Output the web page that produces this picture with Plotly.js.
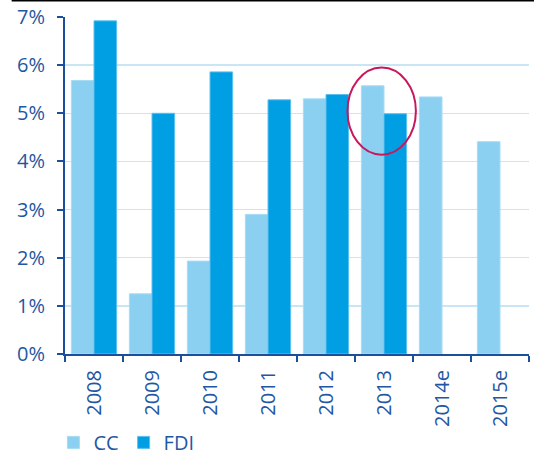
<!DOCTYPE html>
<html>
<head>
<meta charset="utf-8">
<script src="https://cdn.plot.ly/plotly-3.0.1.min.js"></script>
<style>
html,body{margin:0;padding:0;background:#fff;}
#chart{width:534px;height:457px;}
</style>
</head>
<body>
<div id="chart"></div>
<script>
var years = ["2008", "2009", "2010", "2011", "2012", "2013", "2014e", "2015e"];
var ccValues = [5.68, 1.25, 1.93, 2.9, 5.3, 5.57, 5.34, 4.41];
var fdiYears = ["2008", "2009", "2010", "2011", "2012", "2013"];
var fdiValues = [6.92, 5.0, 5.86, 5.28, 5.39, 4.99];
var yTicks = [0, 1, 2, 3, 4, 5, 6, 7];
var yTickLabels = yTicks.map(function (v) { return v + "%"; });

var axisBlue = "#1b4f9c";
var textBlue = "#1f57a3";

var traces = [
  {type: "bar", name: "CC", x: years, y: ccValues,
   marker: {color: "#8bd0f1", line: {color: "#a6dcf5", width: 1}}},
  {type: "bar", name: "FDI", x: fdiYears, y: fdiValues,
   marker: {color: "#009fe3", line: {color: "#5cc0ee", width: 1}}}
];

var layout = {
  width: 534, height: 457,
  margin: {l: 65, r: 5, t: 17, b: 103},
  paper_bgcolor: "#ffffff", plot_bgcolor: "#ffffff",
  font: {family: "Open Sans, sans-serif", size: 20, color: textBlue},
  barmode: "group", bargap: 0.22, bargroupgap: 0,
  showlegend: true,
  legend: {orientation: "h", xref: "container", yref: "container",
           x: 0.1, xanchor: "left", y: 0.032, yanchor: "middle",
           font: {size: 20, color: textBlue}, bgcolor: "rgba(0,0,0,0)", traceorder: "normal"},
  xaxis: {type: "category", categoryorder: "array", categoryarray: years,
          range: [-0.5, 7.5], tickangle: -90, tickson: "boundaries",
          ticks: "outside", ticklen: 6, tickwidth: 2, tickcolor: axisBlue,
          showline: true, linecolor: axisBlue, linewidth: 2, showgrid: false,
          ticklabelstandoff: 6, tickfont: {size: 20, color: textBlue}},
  yaxis: {range: [0, 7], tickmode: "array", tickvals: yTicks, ticktext: yTickLabels,
          ticks: "outside", ticklen: 6, tickwidth: 2, tickcolor: axisBlue,
          showline: true, linecolor: axisBlue, linewidth: 2,
          showgrid: true, gridcolor: "#c8e6f6", gridwidth: 1.5, zeroline: false,
          ticklabelstandoff: 8, tickfont: {size: 20, color: textBlue}},
  shapes: [
    {type: "rect", xref: "paper", yref: "paper", x0: -0.115, x1: 1.02, y0: 1.046, y1: 1.055,
     fillcolor: "#000000", line: {width: 0}},
    {type: "circle", xref: "x", yref: "y", x0: 4.37, x1: 5.55, y0: 4.14, y1: 5.95,
     line: {color: "#c8185c", width: 2}}
  ]
};

Plotly.newPlot("chart", traces, layout, {displayModeBar: false, staticPlot: true});
</script>
</body>
</html>
